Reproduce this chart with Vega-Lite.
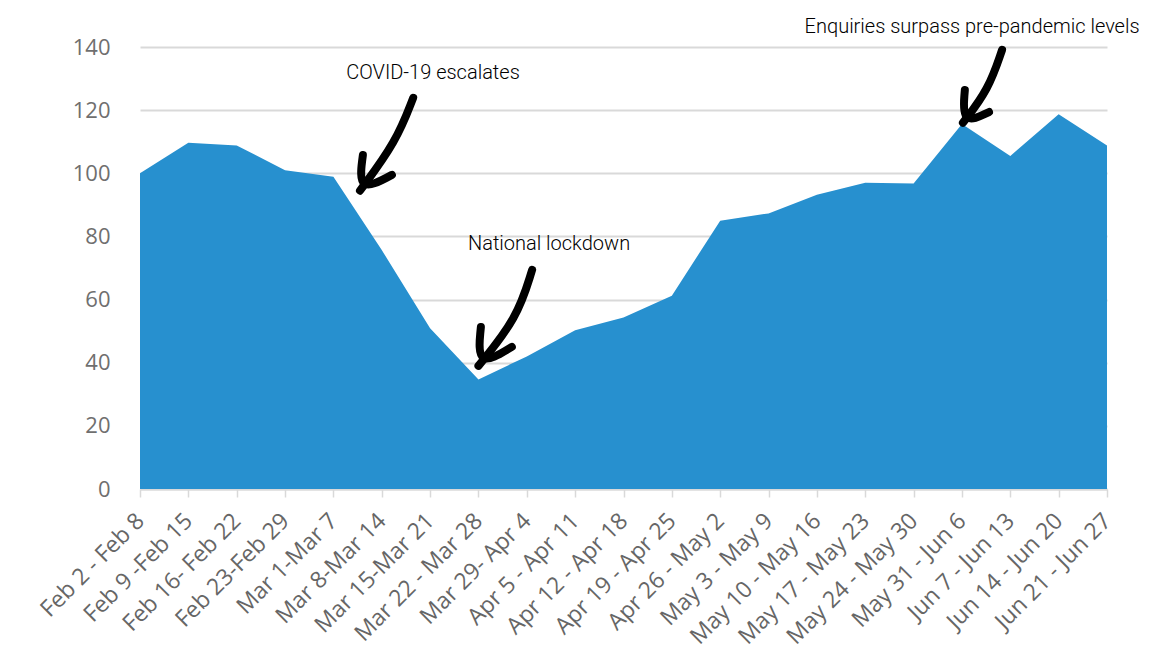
{
  "$schema": "https://vega.github.io/schema/vega-lite/v6.json",
  "width": 967,
  "height": 442,
  "autosize": "none",
  "padding": {"left": 140, "top": 47, "right": 48, "bottom": 181},
  "background": "white",
  "config": {"view": {"stroke": null}},
  "datasets": {
    "weeks": [
      {"week": "Feb 2 - Feb 8", "enquiries": 100},
      {"week": "Feb 9 -Feb 15", "enquiries": 109.7},
      {"week": "Feb 16- Feb 22", "enquiries": 108.8},
      {"week": "Feb 23-Feb 29", "enquiries": 101},
      {"week": "Mar 1-Mar 7", "enquiries": 98.9},
      {"week": "Mar 8-Mar 14", "enquiries": 75.7},
      {"week": "Mar 15-Mar 21", "enquiries": 50.9},
      {"week": "Mar 22 - Mar 28", "enquiries": 34.7},
      {"week": "Mar 29- Apr 4", "enquiries": 42},
      {"week": "Apr 5 - Apr 11", "enquiries": 50.3},
      {"week": "Apr 12 - Apr 18", "enquiries": 54.3},
      {"week": "Apr 19 - Apr 25", "enquiries": 61.2},
      {"week": "Apr 26 - May 2", "enquiries": 85},
      {"week": "May 3 -  May 9", "enquiries": 87.3},
      {"week": "May 10 - May 16", "enquiries": 93.2},
      {"week": "May 17 - May 23", "enquiries": 97},
      {"week": "May 24 - May 30", "enquiries": 96.8},
      {"week": "May 31 - Jun 6", "enquiries": 115.6},
      {"week": "Jun 7 - Jun 13", "enquiries": 105.5},
      {"week": "Jun 14 - Jun 20", "enquiries": 118.7},
      {"week": "Jun 21 - Jun 27", "enquiries": 108.8}
    ],
    "arrows": [
      {"part": "a1shaft", "o": 1, "ax": 5.65, "ay": 123.9},
      {"part": "a1shaft", "o": 2, "ax": 5.3, "ay": 110},
      {"part": "a1shaft", "o": 3, "ax": 4.55, "ay": 94.5},
      {"part": "a1head", "o": 1, "ax": 4.61, "ay": 105.8},
      {"part": "a1head", "o": 2, "ax": 4.51, "ay": 93.8},
      {"part": "a1head", "o": 3, "ax": 5.21, "ay": 99.5},
      {"part": "a2shaft", "o": 1, "ax": 8.11, "ay": 69.4},
      {"part": "a2shaft", "o": 2, "ax": 7.8, "ay": 54},
      {"part": "a2shaft", "o": 3, "ax": 7.0, "ay": 39},
      {"part": "a2head", "o": 1, "ax": 7.05, "ay": 51.3},
      {"part": "a2head", "o": 2, "ax": 6.97, "ay": 38.3},
      {"part": "a2head", "o": 3, "ax": 7.69, "ay": 45.0},
      {"part": "a3shaft", "o": 1, "ax": 17.83, "ay": 139.1},
      {"part": "a3shaft", "o": 2, "ax": 17.55, "ay": 126.5},
      {"part": "a3shaft", "o": 3, "ax": 17.02, "ay": 116},
      {"part": "a3head", "o": 1, "ax": 17.06, "ay": 126.4},
      {"part": "a3head", "o": 2, "ax": 17.0, "ay": 115.3},
      {"part": "a3head", "o": 3, "ax": 17.56, "ay": 119.4}
    ],
    "notes": [
      {"text": "COVID-19  escalates", "ax": 6.06, "ay": 131.8},
      {"text": "National lockdown", "ax": 8.46, "ay": 77.6},
      {"text": "Enquiries surpass pre-pandemic levels", "ax": 17.21, "ay": 146.3}
    ]
  },
  "layer": [
    {
      "data": {"name": "weeks"},
      "mark": {"type": "area", "color": "#2790cf", "opacity": 1},
      "encoding": {
        "x": {
          "field": "week",
          "type": "ordinal",
          "sort": null,
          "scale": {"type": "point", "padding": 0},
          "axis": {
            "title": null,
            "labelAngle": -45,
            "labelAlign": "right",
            "labelBaseline": "middle",
            "labelPadding": 20,
            "labelFont": "Open Sans",
            "labelFontSize": 23,
            "labelColor": "#666666",
            "labelOverlap": false,
            "labelBound": false,
            "labelFlush": false,
            "ticks": true,
            "tickSize": 8,
            "tickColor": "#d9d9d9",
            "tickWidth": 1.5,
            "domain": true,
            "domainColor": "#d9d9d9",
            "domainWidth": 2,
            "grid": false
          }
        },
        "y": {
          "field": "enquiries",
          "type": "quantitative",
          "title": null,
          "scale": {"domain": [0, 140], "nice": false},
          "axis": {
            "title": null,
            "values": [0, 20, 40, 60, 80, 100, 120, 140],
            "grid": true,
            "gridColor": "#d9d9d9",
            "gridWidth": 2,
            "domain": false,
            "ticks": false,
            "labelFont": "Open Sans",
            "labelFontSize": 22,
            "labelColor": "#6f6f6f",
            "labelPadding": 30
          }
        }
      }
    },
    {
      "data": {"name": "arrows"},
      "mark": {"type": "line", "color": "black", "strokeWidth": 8, "strokeCap": "round", "strokeJoin": "round", "interpolate": "basis"},
      "encoding": {
        "x": {"field": "ax", "type": "quantitative", "scale": {"domain": [0, 20], "nice": false, "zero": false}, "axis": null},
        "y": {"field": "ay", "type": "quantitative", "title": null},
        "detail": {"field": "part"},
        "order": {"field": "o"}
      }
    },
    {
      "data": {"name": "notes"},
      "mark": {"type": "text", "font": "Roboto", "fontWeight": 300, "fontSize": 20, "color": "black", "align": "center", "baseline": "middle"},
      "encoding": {
        "x": {"field": "ax", "type": "quantitative", "scale": {"domain": [0, 20], "nice": false, "zero": false}, "axis": null},
        "y": {"field": "ay", "type": "quantitative", "title": null},
        "text": {"field": "text"}
      }
    }
  ],
  "resolve": {"scale": {"x": "independent"}}
}
